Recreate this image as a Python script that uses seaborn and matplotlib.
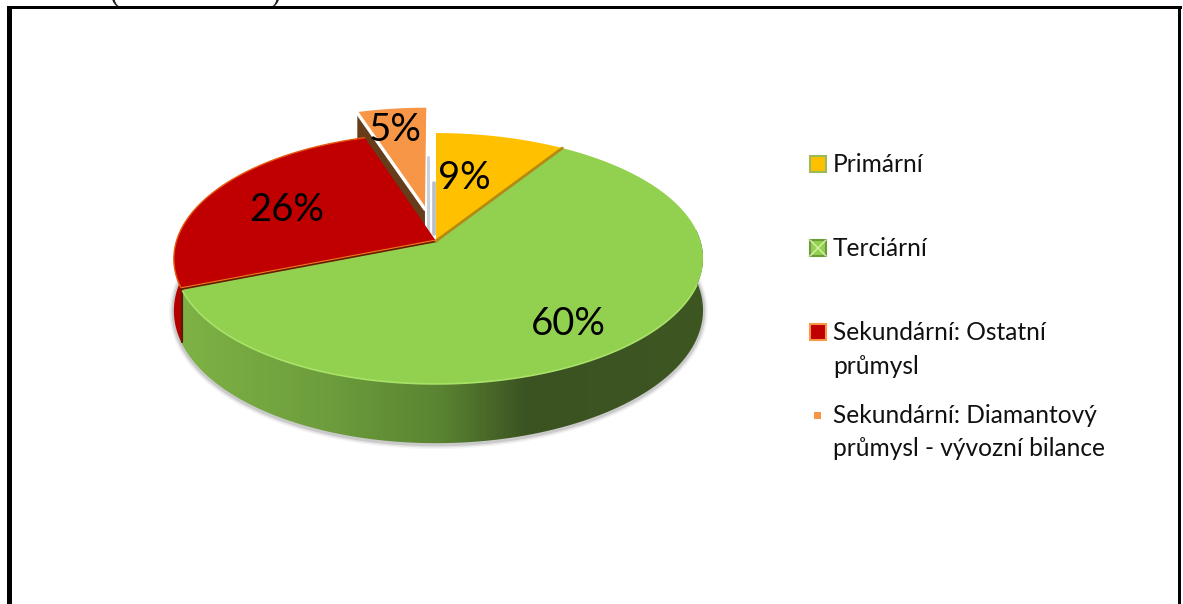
import numpy as np
import matplotlib.pyplot as plt
import seaborn as sns
from matplotlib.colors import LinearSegmentedColormap
from matplotlib.patches import Polygon, Rectangle

categories = ["Primární", "Terciární", "Sekundární: Ostatní\nprůmysl", "Sekundární: Diamantový\nprůmysl - vývozní bilance"]
values = [9, 60, 26, 5]
explode = [0, 0, 0, 0.28]
colors = ["#FFC000", "#92D050", "#C00000", "#F79646"]
edge_colors = ["#9BBB59", "#6F9A3A", "#F79646", "#F79646"]

# label positions in pixels
pct_pos = [(464, 178), (568, 324), (287, 210), (395, 130)]
legend_y = [164, 248, 332, 415]
legend_base = [172, 256, 340, 423]

# pie geometry, tilted disc seen in perspective
cx, cy = 436, 241
rx, ry, persp, depth = 262, 123, 0.1394, 51
side_shift = 2.5

sns.set_theme(style="white")
plt.rcParams["font.family"] = ["Lato", "DejaVu Sans"]


def project(theta, r=1.0, off=(0, 0)):
    # theta in degrees, clockwise from 12 o'clock
    t = np.radians(theta)
    u = r * np.sin(t) + off[0]
    v = r * np.cos(t) + off[1]
    w = 1 + persp * v
    return cx + rx * u / w + side_shift * (r * np.sin(t)) ** 2, cy - ry * v / w, w


def arc(start, end, off=(0, 0), n=120):
    return project(np.linspace(start, end, n), off=off)


def wedge_pts(start, end, off=(0, 0)):
    x, y, _ = arc(start, end, off)
    ax0, ay0, _ = project(0.0, 0.0, off)
    return np.column_stack([np.r_[ax0, x], np.r_[ay0, y]])


def wall_pts(start, end, off=(0, 0)):
    x, y, w = arc(start, end, off)
    bottom = y + depth / w
    return np.column_stack([np.r_[x, x[::-1]], np.r_[y, bottom[::-1]]])


fig = plt.figure(figsize=(11.83, 6.04), dpi=100)
ax = fig.add_axes([0, 0, 1, 1])
ax.set_xlim(0, 1183)
ax.set_ylim(604, 0)
ax.axis("off")

# slice angles from the values
edges = np.cumsum([0] + values) / sum(values) * 360
offs = []
for i in range(4):
    mid = np.radians((edges[i] + edges[i + 1]) / 2)
    offs.append((explode[i] * np.sin(mid), explode[i] * np.cos(mid)))

# soft shadow under the disc
sx, sy, sw = arc(75, 285)
for lw, a in [(7, 0.06), (5, 0.1), (3, 0.18)]:
    ax.plot(sx, sy + depth / sw + 1, color="#555555", lw=lw, alpha=a, solid_capstyle="round", zorder=1)

# side walls
green_wall = Polygon(wall_pts(70, edges[2]), closed=True, fc="none", ec="none", zorder=2)
ax.add_patch(green_wall)
wall_cmap = LinearSegmentedColormap.from_list(
    "wall", [(0, "#7FB446"), (0.3, "#6C9C3C"), (0.5, "#5A8432"), (0.66, "#3B5321"), (1, "#3E5622")]
)
img = ax.imshow(
    np.linspace(0, 1, 256)[None, :], cmap=wall_cmap, extent=[170, 710, 460, 230],
    aspect="auto", zorder=2,
)
img.set_clip_path(green_wall)
ax.set_xlim(0, 1183)
ax.set_ylim(604, 0)

ax.add_patch(Polygon(wall_pts(edges[2], 285), closed=True, fc="#B30000", ec="none", zorder=2.1))

# cut face of the pulled out slice
ox, oy, ow = project(edges[3], 1.0, offs[3])
ax0, ay0, aw = project(0.0, 0.0, offs[3])
brown = [(ox, oy), (ax0, ay0), (ax0, ay0 + depth / aw), (ox, oy + depth / ow)]
ax.add_patch(Polygon(brown, closed=True, fc="#663C1A", ec="none", zorder=2.2))

# light streaks in the gap
ax.plot([cx - 8, cx - 8], [157, 232], color="#C9D2DE", lw=2.2, zorder=2.3)
ax.plot([cx - 2, cx - 2], [183, 234], color="#B8BEC6", lw=2.6, zorder=2.3)

# top faces
for i in [2, 0, 1, 3]:
    ax.add_patch(Polygon(wedge_pts(edges[i], edges[i + 1], offs[i]), closed=True, fc=colors[i], ec="none", zorder=3))

# slice borders
x, y, _ = arc(edges[2], edges[3])
ax.plot(x, y, color="#E8590C", lw=1.0, zorder=3.2)
px, py, _ = project(edges[2])
ax.plot([cx, px], [cy, py], color="#6B1A00", lw=1.8, zorder=3.2)
ax.plot([cx, px], [cy - 1, py - 1], color="#F07A20", lw=0.8, zorder=3.3)
qx, qy, qw = project(edges[2])
ax.plot([qx + 1, qx + 1], [qy, qy + depth / qw], color="#5A1C00", lw=1.6, zorder=3.2)
ox1, oy1, _ = project(edges[1])
ax.plot([cx, ox1], [cy, oy1], color="#B38A12", lw=2.0, zorder=3.2)
x, y, _ = arc(110, edges[2] - 1)
ax.plot(x, y, color="#A9E268", lw=1.2, zorder=3.2)
ax.plot([ox, ax0], [oy + 1, ay0 + 1], color="white", lw=2.4, zorder=3.4)

# percent labels
for val, (tx, ty) in zip(values, pct_pos):
    ax.text(tx, ty, f"{val}%", fontsize=27.5, color="black", ha="center", va="center", zorder=5)

# legend
for i, name in enumerate(categories):
    ms = 7 if i == 3 else 16
    lw = 0 if i == 3 else 1.5
    lx = 818
    ax.add_patch(Rectangle((lx - ms / 2, legend_y[i] - ms / 2), ms, ms, fc=colors[i], ec=edge_colors[i], lw=lw, zorder=4))
    if i == 1:
        ax.plot([lx - ms / 2, lx + ms / 2], [legend_y[i] - ms / 2, legend_y[i] + ms / 2], color="#D8F0B0", lw=1, zorder=4.1)
        ax.plot([lx - ms / 2, lx + ms / 2], [legend_y[i] + ms / 2, legend_y[i] - ms / 2], color="#D8F0B0", lw=1, zorder=4.1)
    lines = name.split("\n")
    for k, line in enumerate(lines):
        ax.text(833, legend_base[i] + k * 33.5, line, fontsize=17.65, color="#111111", ha="left", va="baseline", zorder=5)

# page frame and the bits of text above it
ax.add_patch(Rectangle((7, 6), 1175, 3, fc="black", ec="none", zorder=6))
ax.add_patch(Rectangle((7, 6), 5.5, 598, fc="black", ec="none", zorder=6))
ax.add_patch(Rectangle((1178.5, 6), 3, 598, fc="black", ec="none", zorder=6))
ax.text(115, 7, "(", fontsize=22, family=["Liberation Serif"], ha="center", va="bottom", color="#222222", zorder=0.5)
ax.text(275, 7, ")", fontsize=22, family=["Liberation Serif"], ha="center", va="bottom", color="#222222", zorder=0.5)

fig.savefig("out.png", dpi=100, facecolor="white")
